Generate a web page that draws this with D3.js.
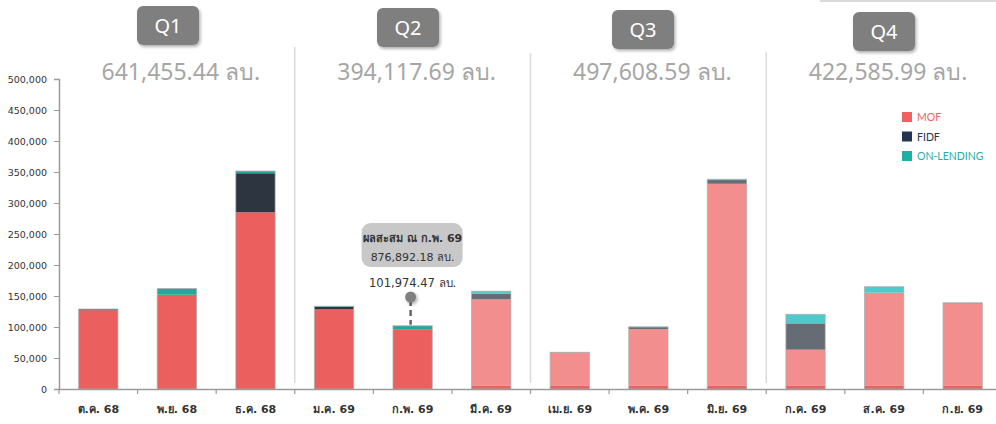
<!DOCTYPE html>
<html><head><meta charset="utf-8">
<script src="https://cdn.jsdelivr.net/npm/d3@7"></script>
<style>
body{margin:0;background:#fff;}
svg{display:block;}
</style></head>
<body>
<svg id="chart" width="996" height="424"></svg>
<script>
const months = ["ต.ค. 68","พ.ย. 68","ธ.ค. 68","ม.ค. 69","ก.พ. 69","มี.ค. 69","เม.ย. 69","พ.ค. 69","มิ.ย. 69","ก.ค. 69","ส.ค. 69","ก.ย. 69"];
const isActual = [true,true,true,true,true,false,false,false,false,false,false,false];
const mofActual = [127000,152000,285000,128500,96500,5000,5000,5000,5000,5000,5000,5000];
const mofPlan   = [0,0,0,0,0,139500,53700,91500,326000,58400,150300,133000];
const fidf      = [1500,0,63000,4000,0,9500,500,3300,6000,42500,0,1000];
const onLending = [500,10000,3500,962,5474,3700,0,600,1300,14500,9700,0];
const quarters = ["Q1","Q2","Q3","Q4"];
const quarterTotals = ["641,455.44 ลบ.","394,117.69 ลบ.","497,608.59 ลบ.","422,585.99 ลบ."];
const yTicks = [0,50000,100000,150000,200000,250000,300000,350000,400000,450000,500000];
const legendNames = ["MOF","FIDF","ON-LENDING"];
const tooltipLines = ["ผลสะสม ณ ก.พ. 69","876,892.18 ลบ."];
const tooltipValue = "101,974.47 ลบ.";
const tooltipMonth = "ก.พ. 69";

const svg = d3.select("#chart");
const font = "Tahoma, 'DejaVu Sans', 'Noto Sans', sans-serif";

const x = d3.scaleBand().domain(months).range([59, 1002]).paddingInner(0.5).paddingOuter(0.25);
const y = d3.scaleLinear().domain([0, 500000]).range([389, 79]);

const defs = svg.append("defs");
const f = defs.append("filter").attr("id","sh").attr("x","-20%").attr("y","-20%").attr("width","150%").attr("height","160%");
f.append("feDropShadow").attr("dx",1.5).attr("dy",2).attr("stdDeviation",1.5).attr("flood-color","#000").attr("flood-opacity",0.3);

// faint top-right line
svg.append("line").attr("x1",820).attr("x2",996).attr("y1",1).attr("y2",1).attr("stroke","#ccc").attr("stroke-width",1.5);

// quarter separators
[3,6,9].forEach((i,k)=>{
  const xx = x.step()*i + 59;
  svg.append("line").attr("x1",xx).attr("x2",xx).attr("y1",[47,53,52][k]).attr("y2",383)
    .attr("stroke","#dcdcdc").attr("stroke-width",1.5);
});

// data table
const table = months.map((m,i)=>({month:m, actual:isActual[i], mofActual:mofActual[i], mofPlan:mofPlan[i], fidf:fidf[i], on:onLending[i]}));
const keys = ["mofActual","mofPlan","fidf","on"];
const stack = d3.stack().keys(keys)(table);
const colors = {
  actual:{mofActual:"#ec5f5f", mofPlan:"#ec5f5f", fidf:"#2c3540", on:"#22a99c"},
  plan:{mofActual:"#e8625f", mofPlan:"#f28e8e", fidf:"#676b73", on:"#4ecaca"}
};

const g = svg.append("g");
stack.forEach(layer=>{
  g.selectAll(null).data(layer.filter(d=>d[1]-d[0]>0)).enter().append("rect")
    .attr("x", d=>x(d.data.month))
    .attr("width", x.bandwidth())
    .attr("y", d=>y(d[1]))
    .attr("height", d=>y(d[0])-y(d[1]))
    .attr("fill", d=>colors[d.data.actual?"actual":"plan"][layer.key]);
});
// bar outlines
g.selectAll(null).data(table).enter().append("rect")
  .attr("x", d=>x(d.month))
  .attr("width", x.bandwidth())
  .attr("y", d=>y(d.mofActual+d.mofPlan+d.fidf+d.on))
  .attr("height", d=>y(0)-y(d.mofActual+d.mofPlan+d.fidf+d.on))
  .attr("fill","none").attr("stroke","#a9a9a9").attr("stroke-opacity",0.7).attr("stroke-width",1);

// y axis
const yAxis = svg.append("g").attr("transform","translate(59,0)")
  .call(d3.axisLeft(y).tickValues(yTicks).tickFormat(d3.format(",")).tickSize(5).tickPadding(7));
yAxis.select(".domain").attr("stroke","#9a9a9a").attr("stroke-width",1.5);
yAxis.selectAll(".tick line").attr("stroke","#9a9a9a");
yAxis.selectAll("text").attr("font-family",font).attr("font-size",9.5).attr("fill","#333");

// x axis
const xAxis = svg.append("g").attr("transform","translate(0,389)")
  .call(d3.axisBottom(x).tickSize(0).tickPadding(16));
xAxis.select(".domain").attr("stroke","#9a9a9a").attr("stroke-width",1.5);
xAxis.selectAll("text").attr("font-family",font).attr("font-size",11).attr("fill","#333").attr("font-weight","bold");
// boundary ticks
xAxis.selectAll(null).data(d3.range(13)).enter().append("line")
  .attr("x1",i=>59+i*x.step()).attr("x2",i=>59+i*x.step()).attr("y1",0).attr("y2",5)
  .attr("stroke","#9a9a9a").attr("stroke-width",1.2);

// quarter headers
const qBoxX = [137,377,612,853];
const qBoxY = [6,8,10,12];
quarters.forEach((q,i)=>{
  const qc = 59 + x.step()*(3*i+1.5);
  svg.append("rect").attr("x",qBoxX[i]).attr("y",qBoxY[i]).attr("width",62).attr("height",39).attr("rx",6)
    .attr("fill","#7f7f7f").attr("filter","url(#sh)");
  svg.append("text").attr("x",qBoxX[i]+31).attr("y",qBoxY[i]+27).attr("text-anchor","middle")
    .attr("font-family","'Noto Sans', 'Open Sans', sans-serif").attr("font-size",20).attr("fill","#fff").text(q);
  svg.append("text").attr("x",qc+4).attr("y",80).attr("text-anchor","middle")
    .attr("font-family","'Noto Sans', 'Open Sans', sans-serif").attr("font-size",23).attr("fill","#a6a6a6").text(quarterTotals[i]);
});

// legend
const legendColors = ["#f06262","#22344f","#1fb0a5"];
legendNames.forEach((n,i)=>{
  const ly = 112 + i*19.5;
  svg.append("rect").attr("x",902).attr("y",ly).attr("width",10).attr("height",10).attr("fill",legendColors[i]);
  svg.append("text").attr("x",917).attr("y",ly+9).attr("font-family","Lato, 'Open Sans', sans-serif")
    .attr("font-size",10.5).attr("fill",legendColors[i]).text(n);
});

// tooltip
const ti = months.indexOf(tooltipMonth);
const tcx = x(tooltipMonth) + x.bandwidth()/2;
const ttop = y(mofActual[ti]+mofPlan[ti]+fidf[ti]+onLending[ti]);
svg.append("rect").attr("x",tcx-51).attr("y",223).attr("width",101).attr("height",44).attr("rx",9).attr("fill","#c8c8c8");
tooltipLines.forEach((t,i)=>{
  svg.append("text").attr("x",tcx).attr("y",242+i*19).attr("text-anchor","middle")
    .attr("font-family",font).attr("font-size",11).attr("fill","#333").attr("font-weight",i===0?"bold":"normal").text(t);
});
svg.append("text").attr("x",tcx).attr("y",287).attr("text-anchor","middle")
  .attr("font-family",font).attr("font-size",11.5).attr("fill","#333").text(tooltipValue);
svg.append("line").attr("x1",tcx-2).attr("x2",tcx-2).attr("y1",300).attr("y2",ttop-1)
  .attr("stroke","#666").attr("stroke-width",2.5).attr("stroke-dasharray","6,4");
svg.append("circle").attr("cx",tcx-2).attr("cy",297).attr("r",5.5).attr("fill","#808080").attr("filter","url(#sh)");
</script>
</body></html>
